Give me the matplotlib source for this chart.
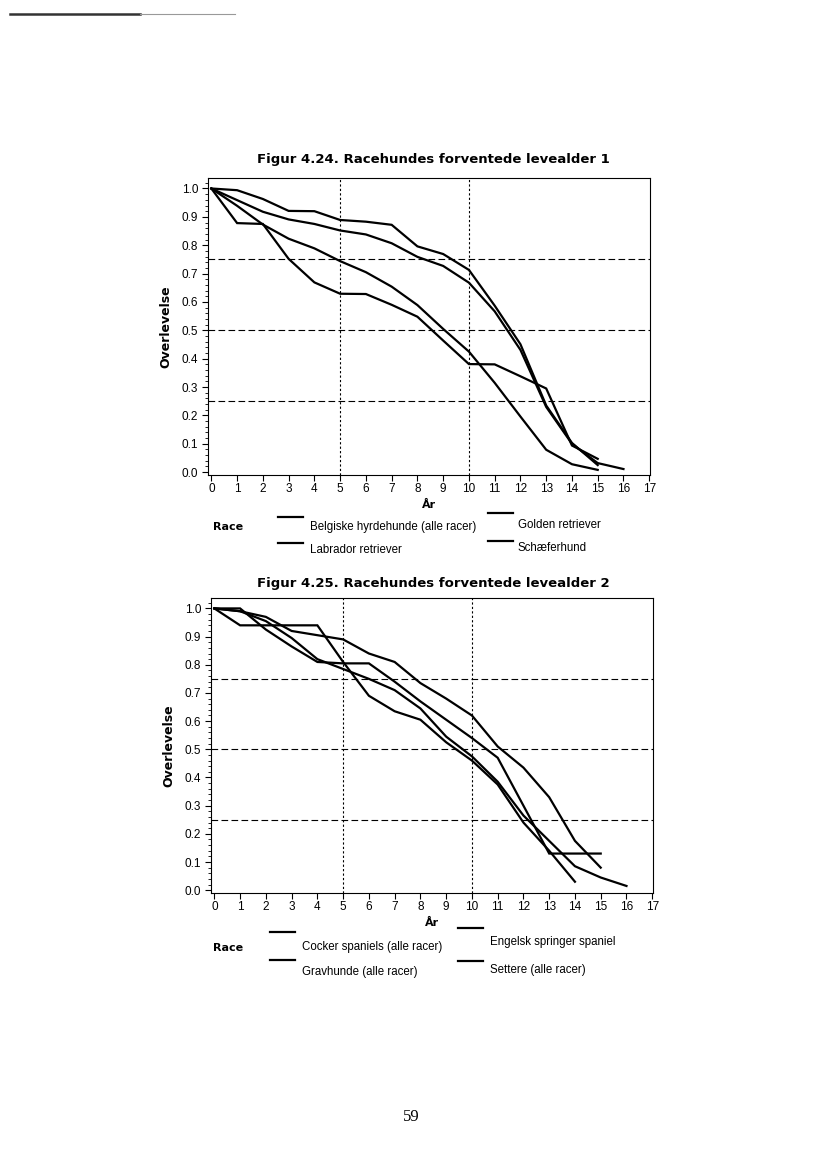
import matplotlib
matplotlib.use("Agg")
import matplotlib.pyplot as plt
from matplotlib.lines import Line2D
from matplotlib.ticker import MultipleLocator

# Figur 4.24
race1 = ["Belgiske hyrdehunde (alle racer)", "Labrador retriever",
         "Golden retriever", "Schæferhund"]
belgiske = [1.0, 0.878, 0.875, 0.752, 0.669, 0.629, 0.628, 0.59, 0.548, 0.464,
            0.381, 0.38, 0.338, 0.295, 0.094, 0.047]
labrador = [1.0, 0.959, 0.918, 0.891, 0.875, 0.852, 0.838, 0.807, 0.759, 0.727,
            0.668, 0.567, 0.431, 0.23, 0.10, 0.032, 0.011]
golden = [1.0, 0.994, 0.963, 0.921, 0.92, 0.889, 0.883, 0.872, 0.796, 0.769,
          0.713, 0.587, 0.451, 0.235, 0.103, 0.025]
schaefer = [1.0, 0.939, 0.873, 0.823, 0.789, 0.744, 0.705, 0.654, 0.589, 0.505,
            0.425, 0.315, 0.196, 0.079, 0.028, 0.008]

# Figur 4.25
race2 = ["Cocker spaniels (alle racer)", "Gravhunde (alle racer)",
         "Engelsk springer spaniel", "Settere (alle racer)"]
cocker = [1.0, 0.99, 0.97, 0.92, 0.905, 0.89, 0.84, 0.81, 0.735, 0.68, 0.62,
          0.51, 0.435, 0.33, 0.175, 0.08]
gravhunde = [1.0, 0.99, 0.955, 0.895, 0.82, 0.785, 0.75, 0.71, 0.645, 0.545,
             0.475, 0.385, 0.265, 0.175, 0.085, 0.045, 0.015]
springer = [1.0, 1.0, 0.925, 0.865, 0.81, 0.805, 0.805, 0.74, 0.67, 0.605,
            0.54, 0.47, 0.30, 0.13, 0.13, 0.13]
settere = [1.0, 0.94, 0.94, 0.94, 0.94, 0.81, 0.69, 0.635, 0.605, 0.525,
           0.46, 0.375, 0.24, 0.14, 0.03]

years = list(range(0, 18))
yticks = [i / 10 for i in range(11)]

sans = "Liberation Sans"
bold = "DejaVu Sans"

fig = plt.figure(figsize=(8.26, 11.69), dpi=100)
W, H = 826.0, 1169.0


def fx(px):
    return px / W


def fy(py):
    return 1 - py / H


def panel(rect, title, series, names, title_y, race_y, leg):
    ax = fig.add_axes(rect)
    for s in series:
        ax.plot(range(len(s)), s, color="black", lw=1.6, solid_joinstyle="miter")
    for v in [0.25, 0.5, 0.75]:
        ax.axhline(v, color="black", lw=0.8, ls=(0, (6, 3)))
    for v in [5, 10]:
        ax.axvline(v, color="black", lw=0.8, ls=(0, (2, 2)))
    ax.set_xlim(-0.13, 17.03)
    ax.set_ylim(-0.01, 1.037)
    ax.set_xticks(years)
    ax.set_xticklabels([str(y) for y in years], fontfamily=sans, fontsize=8.5)
    ax.set_yticks(yticks)
    ax.set_yticklabels(["%.1f" % v for v in yticks], fontfamily=sans, fontsize=8.5)
    ax.yaxis.set_minor_locator(MultipleLocator(0.02))
    ax.tick_params(axis="x", length=4, width=0.8, pad=1.5)
    ax.tick_params(axis="y", which="major", length=4, width=0.8, pad=3)
    ax.tick_params(axis="y", which="minor", length=2, width=0.6)
    for sp in ax.spines.values():
        sp.set_linewidth(0.8)
    ax.set_xlabel("År", fontfamily=bold, fontweight="bold", fontsize=8, labelpad=4)
    ax.set_ylabel("Overlevelse", fontfamily=bold, fontweight="bold", fontsize=9,
                  labelpad=7)
    fig.text(0.525, fy(title_y), title, ha="center", va="center",
             fontfamily=bold, fontweight="bold", fontsize=9.5)
    fig.text(fx(213), fy(race_y), "Race", ha="left", va="center",
             fontfamily=bold, fontweight="bold", fontsize=8)
    # legend: short line above and left of each label, as in the SAS output
    for name, (lx, ly, tx, ty) in zip(names, leg):
        fig.add_artist(Line2D([fx(lx), fx(lx + 25)], [fy(ly), fy(ly)],
                              color="black", lw=1.6))
        fig.text(fx(tx), fy(ty), name, ha="left", va="center",
                 fontfamily=sans, fontsize=8.3)
    return ax


panel([fx(208), fy(475), 442 / W, 297 / H],
      "Figur 4.24. Racehundes forventede levealder 1",
      [belgiske, labrador, golden, schaefer], race1, 159, 527,
      [(278, 517, 310, 527), (278, 543, 310, 550),
       (488, 513, 518, 525), (488, 541, 518, 548)])
panel([fx(211), fy(893), 442 / W, 295 / H],
      "Figur 4.25. Racehundes forventede levealder 2",
      [cocker, gravhunde, springer, settere], race2, 583, 948,
      [(270, 932, 302, 947), (270, 960, 302, 972),
       (458, 928, 490, 942), (458, 961, 490, 970)])

# scan edge at top of page
fig.add_artist(Line2D([fx(10), fx(140)], [fy(14), fy(14)], color="#333333", lw=1.8))
fig.add_artist(Line2D([fx(140), fx(235)], [fy(13.5), fy(13.5)], color="#999999", lw=0.8))

fig.text(fx(411), fy(1117), "59", ha="center", va="center",
         fontfamily="Liberation Serif", fontsize=12)

fig.savefig("out.png", dpi=100)
